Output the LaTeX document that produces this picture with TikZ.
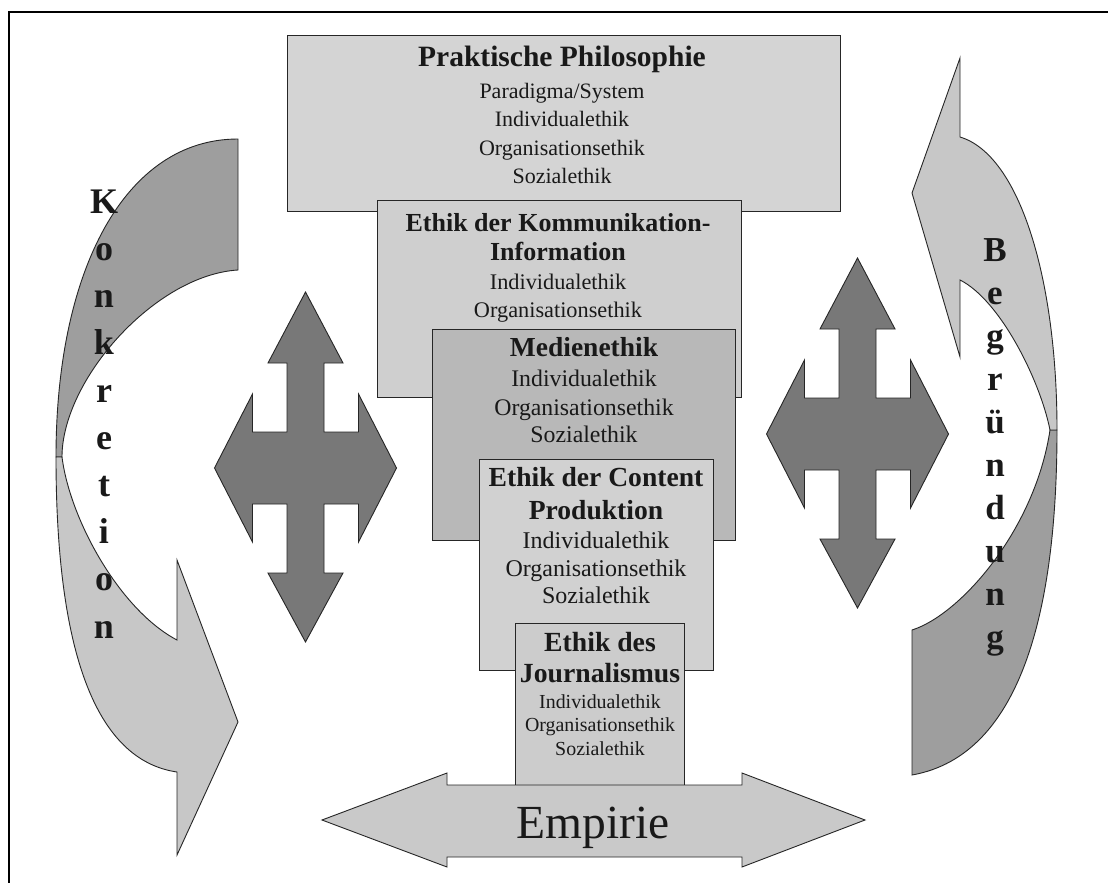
\documentclass[tikz,border=0pt]{standalone}
\usepackage{fontspec}
\setmainfont{Liberation Serif}
\begin{document}
\begin{tikzpicture}[x=1pt,y=-1pt,
  edge/.style={draw=black!85, line width=0.9pt, line join=miter},
  box1/.style={edge, fill=black!17},
  box2/.style={edge, fill=black!19},
  box3/.style={edge, fill=black!28},
  box4/.style={edge, fill=black!18},
  box5/.style={edge, fill=black!20},
  cross/.style={edge, fill=black!53},
  darkband/.style={edge, fill=black!38},
  lightband/.style={edge, fill=black!22},
  empa/.style={edge, fill=black!21},
  ln/.style={anchor=base, inner sep=0pt, text=black!90},
  ttl/.style={ln, font=\bfseries},
  letter/.style={anchor=base, inner sep=0pt, text=black!90, font=\bfseries\fontsize{36}{36}\selectfont}
]
\useasboundingbox (0,0) rectangle (1108,883);
\fill[white] (0,0) rectangle (1108,883);
\draw[line width=1.4pt] (9,883) -- (9,12) -- (1108,12);

% ---- stacked boxes
\draw[box1] (287,35) rectangle (840,211);
\draw[box2] (377,200) rectangle (741,397);
\draw[box3] (432,329) rectangle (735,540);
\draw[box4] (479,459) rectangle (713,670);
\draw[box5] (515,623) rectangle (684,785);

% ---- box texts
\node[ttl, font=\bfseries\fontsize{29.5}{30}\selectfont] (a1) at (562,66.7) {Praktische Philosophie};
\node[ln, font=\fontsize{22}{22}\selectfont] (a2) at (562,98.3) {Paradigma/System};
\node[ln, font=\fontsize{22}{22}\selectfont] (a3) at (562,126.7) {Individualethik};
\node[ln, font=\fontsize{22}{22}\selectfont] (a4) at (562,155) {Organisationsethik};
\node[ln, font=\fontsize{22}{22}\selectfont] (a5) at (562,183.3) {Sozialethik};

\node[ttl, font=\bfseries\fontsize{26}{26}\selectfont] (b1) at (558,231.7) {Ethik der Kommunikation-};
\node[ttl, font=\bfseries\fontsize{26}{26}\selectfont] (b2) at (558,260.7) {Information};
\node[ln, font=\fontsize{22.3}{22}\selectfont] (b3) at (558,289.3) {Individualethik};
\node[ln, font=\fontsize{22.3}{22}\selectfont] (b4) at (558,317.3) {Organisationsethik};

\node[ttl, font=\bfseries\fontsize{27.5}{27}\selectfont] (c1) at (584,356.7) {Medienethik};
\node[ln, font=\fontsize{23.8}{24}\selectfont] (c2) at (584,386.7) {Individualethik};
\node[ln, font=\fontsize{23.8}{24}\selectfont] (c3) at (584,415) {Organisationsethik};
\node[ln, font=\fontsize{23.8}{24}\selectfont] (c4) at (584,442.7) {Sozialethik};

\node[ttl, font=\bfseries\fontsize{27.6}{27}\selectfont] (d1) at (596,486.7) {Ethik der Content};
\node[ttl, font=\bfseries\fontsize{27.6}{27}\selectfont] (d2) at (596,519) {Produktion};
\node[ln, font=\fontsize{24}{24}\selectfont] (d3) at (596,548.3) {Individualethik};
\node[ln, font=\fontsize{24}{24}\selectfont] (d4) at (596,576) {Organisationsethik};
\node[ln, font=\fontsize{24}{24}\selectfont] (d5) at (596,603.3) {Sozialethik};

\node[ttl, font=\bfseries\fontsize{27.7}{27}\selectfont] (e1) at (600,651.7) {Ethik des};
\node[ttl, font=\bfseries\fontsize{27.7}{27}\selectfont] (e2) at (600,682.7) {Journalismus};
\node[ln, font=\fontsize{19.9}{20}\selectfont] (e3) at (600,708.3) {Individualethik};
\node[ln, font=\fontsize{19.9}{20}\selectfont] (e4) at (600,731.7) {Organisationsethik};
\node[ln, font=\fontsize{19.9}{20}\selectfont] (e5) at (600,755) {Sozialethik};

% ---- Empirie double arrow
\draw[empa] (322,820) -- (447,773) -- (447,785) -- (742,785) -- (742,773) -- (865,820)
  -- (742,867) -- (742,857) -- (447,857) -- (447,867) -- cycle;
\node[ln, font=\fontsize{47.5}{48}\selectfont] (emp) at (593,838.3) {Empirie};

% ---- four-way arrows
\foreach \cx/\cy in {305.5/468, 857.5/434} {
\begin{scope}[shift={(\cx,\cy)}]
\draw[cross] (0,-176) -- (37.5,-105) -- (18.5,-105) -- (18.5,-36) -- (53,-36) -- (53,-74)
  -- (91,0) -- (53,74) -- (53,36) -- (18.5,36) -- (18.5,105) -- (37.5,105) -- (0,174)
  -- (-37.5,105) -- (-18.5,105) -- (-18.5,36) -- (-53,36) -- (-53,74) -- (-91,0)
  -- (-53,-74) -- (-53,-36) -- (-18.5,-36) -- (-18.5,-105) -- (-37.5,-105) -- cycle;
\end{scope}
}

% ---- left curved arrow (Konkretion)
\draw[darkband] (238,139) .. controls (125,139) and (56,270) .. (56,457) -- (62,457)
  .. controls (62,380) and (155,275) .. (238,270) -- cycle;
\draw[lightband] (56,457) .. controls (56,650) and (95,760) .. (177,772) -- (177,855)
  -- (238,722) -- (177,560) -- (177,640) .. controls (120,610) and (70,520) .. (62,457) -- cycle;

% ---- right curved arrow (Begruendung)
\draw[darkband] (912,775) .. controls (1025,755) and (1057,600) .. (1057,430) -- (1050,430)
  .. controls (1035,530) and (960,615) .. (912,630) -- cycle;
\draw[lightband] (960,137) .. controls (1020,155) and (1057,280) .. (1057,430) -- (1050,430)
  .. controls (1040,380) and (1000,300) .. (960,280) -- (960,357) -- (912,193) -- (960,58) -- cycle;

% ---- vertical words
\foreach \l [count=\i] in {K,o,n,k,r,e,t,i,o,n}
  \node[letter] (kon\i) at (104,{213.3+47.2*(\i-1)}) {\l};
\foreach \l [count=\i] in {B,e,g,r,ü,n,d,u,n,g}
  \node[letter, font=\bfseries\fontsize{35}{35}\selectfont] (beg\i) at (995,{261.7+43*(\i-1)}) {\l};
\end{tikzpicture}
\end{document}
